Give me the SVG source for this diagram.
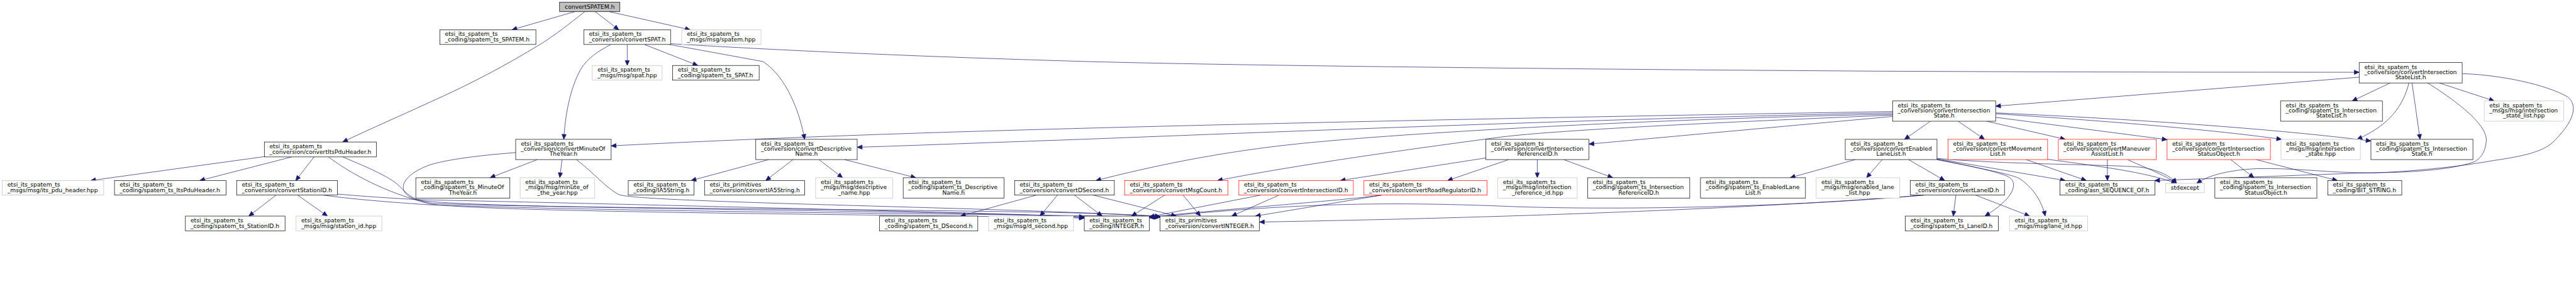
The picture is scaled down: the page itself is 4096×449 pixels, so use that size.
<svg xmlns="http://www.w3.org/2000/svg" width="4096" height="449" viewBox="0 0 4096 449">
<defs>
<style>
.n rect{fill:#fff;stroke:#000;stroke-width:1}
.g rect{fill:#fff;stroke:#bfbfbf;stroke-width:1}
.r rect{fill:#fff;stroke:#ff0000;stroke-width:1}
.root rect{fill:#bfbfbf;stroke:#000;stroke-width:1}
text{font-family:"DejaVu Sans","Liberation Sans",sans-serif;font-size:12.9px;fill:#000}
.c{text-anchor:middle}
#edges path{fill:none;stroke:#191970;stroke-width:1;marker-end:url(#a)}
</style>
<marker id="a" markerUnits="userSpaceOnUse" markerWidth="12" markerHeight="10" refX="11" refY="4.8" orient="auto" overflow="visible"><path d="M0,0 L11,4.8 L0,9.6 z" fill="#191970" stroke="#191970" stroke-width="1"/></marker>
</defs>
<rect width="4096" height="449" fill="#fff"/>
<g transform="scale(0.710371)">
<g id="edges">
<path d="M1287,26 L1146,66.7"/>
<path d="M1309,26 C1270,57 1240,80 1213,97 C1130,148 1050,190 960,230 C900,258 830,288 767,318.3"/>
<path d="M1332,26 L1385,66.7"/>
<path d="M1363,26 L1545,66.7"/>
<path d="M1404,100 L1404,146.7"/>
<path d="M1443,100 L1562,146.7"/>
<path d="M1367,100 C1340,114 1315,130 1300,155 C1275,200 1265,260 1262,312.3"/>
<path d="M1495,99 L1708,138 C1760,172 1790,250 1801,312.3"/>
<path d="M1501,98 C1800,116 2100,128 2401,137 S3361,153 3841,157 S4801,162 5280.7,162"/>
<path d="M5350,186 L5265,226.3"/>
<path d="M5399,186 L5417,312.3"/>
<path d="M5460,186 L5583,226.3"/>
<path d="M5392,186 C5380,235 5350,280 5276,312.3"/>
<path d="M5281,173 L4467,238"/>
<path d="M5434,186 C5500,228 5570,280 5565,318 C5562,345 5550,355 5540,362 C5480,385 5350,388 5280,387 C5200,386 5133,376 5050,378 C4980,382 4940,395 4917,411"/>
<path d="M5511,165 C5600,168 5700,190 5747,217 C5770,235 5765,270 5713,320 C5690,340 5650,350 5580,360 C5480,378 5350,388 5280,388 L4823,404.7"/>
<path d="M4236.3,250 C3500,262 2500,282 1921,303 C1700,311 1500,320 1368,327"/>
<path d="M4236.3,253 C3600,265 2800,298 2401,313 C2200,320 2050,326 1918.7,330"/>
<path d="M4236.3,256 C3700,266 3100,300 2881,325 C2700,345 2550,380 2453,404.7"/>
<path d="M4236.3,258 C3900,272 3500,290 3361,307 C3150,335 2900,370 2725,404.7"/>
<path d="M4236.3,261 L3556.7,323"/>
<path d="M4321,271.7 L4263,312.3"/>
<path d="M4383,271.7 L4442,312.3"/>
<path d="M4447,271.7 L4623,312.3"/>
<path d="M4467,263 L4850.7,313"/>
<path d="M4467,255 C4700,270 4950,290 5107,312.3"/>
<path d="M4467,253 C4800,268 5100,290 5307,316"/>
<path d="M1203,357.7 L1097,398.3"/>
<path d="M1258,357.7 L1253,398.3"/>
<path d="M1290,357.7 C1330,388 1355,420 1385,436 C1430,455 2300,465 2596.7,486"/>
<path d="M1154.3,342 C1060,349 990,360 961,370 C900,392 882,430 930,447 C1000,470 2200,470 2427,488"/>
<path d="M592,351 L203,404.7"/>
<path d="M653,351.7 L447,404.7"/>
<path d="M703,351.7 L662,404.7"/>
<path d="M735,351.7 C790,392 860,430 961,457 C1100,478 2200,482 2427,489"/>
<path d="M767,351.7 C830,378 875,398 895,418 C915,440 930,450 970,456 C1300,470 2400,468 2596.7,485"/>
<path d="M618,437.3 L557,484.3"/>
<path d="M666,437.3 L733,484.3"/>
<path d="M755.3,435 C850,443 920,447 961,448 C1500,460 2250,478 2427,486"/>
<path d="M723,437.3 C800,448 900,455 961,459 C1500,478 2400,480 2596.7,487"/>
<path d="M1721,357.7 L1547,404.7"/>
<path d="M1775,357.7 L1714,404.7"/>
<path d="M1833,357.7 L1886,398.3"/>
<path d="M1890,357.7 L2050,398.3"/>
<path d="M3441,357.7 L3441,398.3"/>
<path d="M3500,357.7 L3610,398.3"/>
<path d="M3326,354 L3000,404.7"/>
<path d="M3377,357.7 L3240,404.7"/>
<path d="M4153,357.7 L4007,398.3"/>
<path d="M4213,357.7 L4178,398.3"/>
<path d="M4272,357.7 L4353,404.7"/>
<path d="M4335.7,356 L4623,404.7"/>
<path d="M4335.7,357 C4440,378 4480,388 4497,397 C4515,408 4515,440 4443,484.3"/>
<path d="M4335.7,358 C4450,380 4505,392 4520,400 C4550,420 4570,450 4578,484.3"/>
<path d="M4335.7,355 C4500,370 4750,368 4800,376 C4840,384 4862,398 4872,411"/>
<path d="M4535,357.7 L4670,404.7"/>
<path d="M4583.3,357 C4700,373 4800,385 4872,411"/>
<path d="M4717,357.7 L4717,404.7"/>
<path d="M4762,357.7 C4800,375 4845,392 4872,411"/>
<path d="M4993,357.7 L5045,398.3"/>
<path d="M5050,357.7 L5232,404.7"/>
<path d="M2320,437.3 L2150,484.3"/>
<path d="M2367,437.3 L2328,484.3"/>
<path d="M2405,437.3 L2467,484.3"/>
<path d="M2447,437.3 L2633,484.3"/>
<path d="M2607,437.3 L2533,484.3"/>
<path d="M2648,437.3 L2687,484.3"/>
<path d="M2822,437.3 L2572.7,486"/>
<path d="M2863,437.3 L2757,484.3"/>
<path d="M3093,437.3 C3000,450 2700,472 2572.7,487"/>
<path d="M3093,437.3 L2810,484.3"/>
<path d="M4378,437.3 L4372,484.3"/>
<path d="M4422,437.3 L4543,484.3"/>
<path d="M4307,437.3 C4000,465 3600,472 3361,462 C3100,452 2900,455 2572.7,488"/>
<path d="M4307,437.3 C4000,462 3500,485 2880,496.5 L2819,497.7"/>
</g>
<g id="n0" class="root"><rect x="1252.5" y="5" width="135" height="21"/><text class="c" x="1320" y="19.5">convertSPATEM.h</text></g>
<g id="n1" class="n"><rect x="984.5" y="66.7" width="215" height="33"/><text x="996" y="80.7">etsi_its_spatem_ts<tspan x="996" y="92.7">_coding/spatem_ts_SPATEM.h</tspan></text></g>
<g id="n2" class="n"><rect x="1306.7" y="66.7" width="194.3" height="33"/><text x="1318.2" y="80.7">etsi_its_spatem_ts<tspan x="1318.2" y="92.7">_conversion/convertSPAT.h</tspan></text></g>
<g id="n3" class="g"><rect x="1526" y="66.7" width="177.3" height="33"/><text x="1537.5" y="80.7">etsi_its_spatem_ts<tspan x="1537.5" y="92.7">_msgs/msg/spatem.hpp</tspan></text></g>
<g id="n4" class="g"><rect x="1325.7" y="146.7" width="156.3" height="33"/><text x="1337.2" y="160.7">etsi_its_spatem_ts<tspan x="1337.2" y="172.7">_msgs/msg/spat.hpp</tspan></text></g>
<g id="n5" class="n"><rect x="1505.7" y="146.7" width="193.6" height="33"/><text x="1517.2" y="160.7">etsi_its_spatem_ts<tspan x="1517.2" y="172.7">_coding/spatem_ts_SPAT.h</tspan></text></g>
<g id="n6" class="n"><rect x="5280.7" y="140.3" width="230.6" height="45.7"/><text x="5292.2" y="154.3">etsi_its_spatem_ts<tspan x="5292.2" y="166.3">_conversion/convertIntersection</tspan><tspan class="c" x="5396" y="177.8">StateList.h</tspan></text></g>
<g id="n7" class="n"><rect x="4236.3" y="226.3" width="230.7" height="45.4"/><text x="4247.8" y="240.3">etsi_its_spatem_ts<tspan x="4247.8" y="252.3">_conversion/convertIntersection</tspan><tspan class="c" x="4351.6" y="263.8">State.h</tspan></text></g>
<g id="n8" class="n"><rect x="5104.7" y="226.3" width="228" height="45.4"/><text x="5116.2" y="240.3">etsi_its_spatem_ts<tspan x="5116.2" y="252.3">_coding/spatem_ts_Intersection</tspan><tspan class="c" x="5218.7" y="263.8">StateList.h</tspan></text></g>
<g id="n9" class="g"><rect x="5560.7" y="226.3" width="177.6" height="45.4"/><text x="5572.2" y="240.3">etsi_its_spatem_ts<tspan x="5572.2" y="252.3">_msgs/msg/intersection</tspan><tspan class="c" x="5649.5" y="263.8">_state_list.hpp</tspan></text></g>
<g id="n10" class="n"><rect x="1154.3" y="312.3" width="213.7" height="45.4"/><text x="1165.8" y="326.3">etsi_its_spatem_ts<tspan x="1165.8" y="338.3">_conversion/convertMinuteOf</tspan><tspan class="c" x="1261.2" y="349.8">TheYear.h</tspan></text></g>
<g id="n11" class="n"><rect x="1691.7" y="312.3" width="227" height="45.4"/><text x="1703.2" y="326.3">etsi_its_spatem_ts<tspan x="1703.2" y="338.3">_conversion/convertDescriptive</tspan><tspan class="c" x="1805.2" y="349.8">Name.h</tspan></text></g>
<g id="n12" class="n"><rect x="3326" y="312.3" width="230.7" height="45.4"/><text x="3337.5" y="326.3">etsi_its_spatem_ts<tspan x="3337.5" y="338.3">_conversion/convertIntersection</tspan><tspan class="c" x="3441.4" y="349.8">ReferenceID.h</tspan></text></g>
<g id="n13" class="n"><rect x="4130.3" y="312.3" width="205.4" height="45.4"/><text x="4141.8" y="326.3">etsi_its_spatem_ts<tspan x="4141.8" y="338.3">_conversion/convertEnabled</tspan><tspan class="c" x="4233" y="349.8">LaneList.h</tspan></text></g>
<g id="n14" class="r"><rect x="4360.3" y="312.3" width="223" height="45.4"/><text x="4371.8" y="326.3">etsi_its_spatem_ts<tspan x="4371.8" y="338.3">_conversion/convertMovement</tspan><tspan class="c" x="4471.8" y="349.8">List.h</tspan></text></g>
<g id="n15" class="r"><rect x="4607.3" y="312.3" width="219" height="45.4"/><text x="4618.8" y="326.3">etsi_its_spatem_ts<tspan x="4618.8" y="338.3">_conversion/convertManeuver</tspan><tspan class="c" x="4716.8" y="349.8">AssistList.h</tspan></text></g>
<g id="n16" class="r"><rect x="4850.7" y="312.3" width="231.3" height="45.4"/><text x="4862.2" y="326.3">etsi_its_spatem_ts<tspan x="4862.2" y="338.3">_conversion/convertIntersection</tspan><tspan class="c" x="4966.4" y="349.8">StatusObject.h</tspan></text></g>
<g id="n17" class="g"><rect x="5105.7" y="312.3" width="177.6" height="45.4"/><text x="5117.2" y="326.3">etsi_its_spatem_ts<tspan x="5117.2" y="338.3">_msgs/msg/intersection</tspan><tspan class="c" x="5194.5" y="349.8">_state.hpp</tspan></text></g>
<g id="n18" class="n"><rect x="5307" y="312.3" width="228.3" height="45.4"/><text x="5318.5" y="326.3">etsi_its_spatem_ts<tspan x="5318.5" y="338.3">_coding/spatem_ts_Intersection</tspan><tspan class="c" x="5421.2" y="349.8">State.h</tspan></text></g>
<g id="n19" class="n"><rect x="591.7" y="318.3" width="251" height="33.4"/><text x="603.2" y="332.3">etsi_its_spatem_ts<tspan x="603.2" y="344.3">_conversion/convertItsPduHeader.h</tspan></text></g>
<g id="n20" class="g"><rect x="5" y="404.7" width="227" height="32.6"/><text x="16.5" y="418.7">etsi_its_spatem_ts<tspan x="16.5" y="430.7">_msgs/msg/its_pdu_header.hpp</tspan></text></g>
<g id="n21" class="n"><rect x="256.3" y="404.7" width="249.7" height="32.6"/><text x="267.8" y="418.7">etsi_its_spatem_ts<tspan x="267.8" y="430.7">_coding/spatem_ts_ItsPduHeader.h</tspan></text></g>
<g id="n22" class="n"><rect x="529.7" y="404.7" width="225.6" height="32.6"/><text x="541.2" y="418.7">etsi_its_spatem_ts<tspan x="541.2" y="430.7">_conversion/convertStationID.h</tspan></text></g>
<g id="n23" class="n"><rect x="930.7" y="398.3" width="210.6" height="45.7"/><text x="942.2" y="412.3">etsi_its_spatem_ts<tspan x="942.2" y="424.3">_coding/spatem_ts_MinuteOf</tspan><tspan class="c" x="1036" y="435.8">TheYear.h</tspan></text></g>
<g id="n24" class="g"><rect x="1164.3" y="398.3" width="167" height="45.7"/><text x="1175.8" y="412.3">etsi_its_spatem_ts<tspan x="1175.8" y="424.3">_msgs/msg/minute_of</tspan><tspan class="c" x="1247.8" y="435.8">_the_year.hpp</tspan></text></g>
<g id="n25" class="n"><rect x="1406.3" y="404.7" width="147" height="32.6"/><text x="1417.8" y="418.7">etsi_its_spatem_ts<tspan x="1417.8" y="430.7">_coding/IA5String.h</tspan></text></g>
<g id="n26" class="n"><rect x="1577" y="404.7" width="224.3" height="32.6"/><text x="1588.5" y="418.7">etsi_its_primitives<tspan x="1588.5" y="430.7">_conversion/convertIA5String.h</tspan></text></g>
<g id="n27" class="g"><rect x="1825.7" y="398.3" width="172.3" height="45.7"/><text x="1837.2" y="412.3">etsi_its_spatem_ts<tspan x="1837.2" y="424.3">_msgs/msg/descriptive</tspan><tspan class="c" x="1911.9" y="435.8">_name.hpp</tspan></text></g>
<g id="n28" class="n"><rect x="2021.7" y="398.3" width="225.6" height="45.7"/><text x="2033.2" y="412.3">etsi_its_spatem_ts<tspan x="2033.2" y="424.3">_coding/spatem_ts_Descriptive</tspan><tspan class="c" x="2134.5" y="435.8">Name.h</tspan></text></g>
<g id="n29" class="n"><rect x="2271" y="404.7" width="223.3" height="32.6"/><text x="2282.5" y="418.7">etsi_its_spatem_ts<tspan x="2282.5" y="430.7">_conversion/convertDSecond.h</tspan></text></g>
<g id="n30" class="r"><rect x="2517.3" y="404.7" width="231.4" height="32.6"/><text x="2528.8" y="418.7">etsi_its_spatem_ts<tspan x="2528.8" y="430.7">_conversion/convertMsgCount.h</tspan></text></g>
<g id="n31" class="r"><rect x="2773" y="404.7" width="256.3" height="32.6"/><text x="2784.5" y="418.7">etsi_its_spatem_ts<tspan x="2784.5" y="430.7">_conversion/convertIntersectionID.h</tspan></text></g>
<g id="n32" class="r"><rect x="3053" y="404.7" width="275.3" height="32.6"/><text x="3064.5" y="418.7">etsi_its_spatem_ts<tspan x="3064.5" y="430.7">_conversion/convertRoadRegulatorID.h</tspan></text></g>
<g id="n33" class="g"><rect x="3352.7" y="398.3" width="177.6" height="45.7"/><text x="3364.2" y="412.3">etsi_its_spatem_ts<tspan x="3364.2" y="424.3">_msgs/msg/intersection</tspan><tspan class="c" x="3441.5" y="435.8">_reference_id.hpp</tspan></text></g>
<g id="n34" class="n"><rect x="3553.7" y="398.3" width="228.6" height="45.7"/><text x="3565.2" y="412.3">etsi_its_spatem_ts<tspan x="3565.2" y="424.3">_coding/spatem_ts_Intersection</tspan><tspan class="c" x="3668" y="435.8">ReferenceID.h</tspan></text></g>
<g id="n35" class="n"><rect x="3806.3" y="398.3" width="235" height="45.7"/><text x="3817.8" y="412.3">etsi_its_spatem_ts<tspan x="3817.8" y="424.3">_coding/spatem_ts_EnabledLane</tspan><tspan class="c" x="3923.8" y="435.8">List.h</tspan></text></g>
<g id="n36" class="g"><rect x="4065.3" y="398.3" width="187" height="45.7"/><text x="4076.8" y="412.3">etsi_its_spatem_ts<tspan x="4076.8" y="424.3">_msgs/msg/enabled_lane</tspan><tspan class="c" x="4158.8" y="435.8">_list.hpp</tspan></text></g>
<g id="n37" class="n"><rect x="4275.7" y="404.7" width="211" height="32.6"/><text x="4287.2" y="418.7">etsi_its_spatem_ts<tspan x="4287.2" y="430.7">_conversion/convertLaneID.h</tspan></text></g>
<g id="n38" class="n"><rect x="4611" y="404.7" width="212.3" height="32.6"/><text x="4622.5" y="418.7">etsi_its_spatem_ts<tspan x="4622.5" y="430.7">_coding/asn_SEQUENCE_OF.h</tspan></text></g>
<g id="n39" class="g"><rect x="4847.3" y="411" width="86.7" height="21"/><text class="c" x="4890.7" y="425">stdexcept</text></g>
<g id="n40" class="n"><rect x="4957.7" y="398.3" width="228.3" height="45.7"/><text x="4969.2" y="412.3">etsi_its_spatem_ts<tspan x="4969.2" y="424.3">_coding/spatem_ts_Intersection</tspan><tspan class="c" x="5071.9" y="435.8">StatusObject.h</tspan></text></g>
<g id="n41" class="n"><rect x="5210.3" y="404.7" width="165.7" height="32.6"/><text x="5221.8" y="418.7">etsi_its_spatem_ts<tspan x="5221.8" y="430.7">_coding/BIT_STRING.h</tspan></text></g>
<g id="n42" class="n"><rect x="415" y="484.3" width="223" height="33.4"/><text x="426.5" y="498.3">etsi_its_spatem_ts<tspan x="426.5" y="510.3">_coding/spatem_ts_StationID.h</tspan></text></g>
<g id="n43" class="g"><rect x="662.7" y="484.3" width="192" height="33.4"/><text x="674.2" y="498.3">etsi_its_spatem_ts<tspan x="674.2" y="510.3">_msgs/msg/station_id.hpp</tspan></text></g>
<g id="n44" class="n"><rect x="1968.7" y="484.3" width="220" height="33.4"/><text x="1980.2" y="498.3">etsi_its_spatem_ts<tspan x="1980.2" y="510.3">_coding/spatem_ts_DSecond.h</tspan></text></g>
<g id="n45" class="g"><rect x="2213" y="484.3" width="189.7" height="33.4"/><text x="2224.5" y="498.3">etsi_its_spatem_ts<tspan x="2224.5" y="510.3">_msgs/msg/d_second.hpp</tspan></text></g>
<g id="n46" class="n"><rect x="2427" y="484.3" width="145.7" height="33.4"/><text x="2438.5" y="498.3">etsi_its_spatem_ts<tspan x="2438.5" y="510.3">_coding/INTEGER.h</tspan></text></g>
<g id="n47" class="n"><rect x="2596.7" y="484.3" width="222.3" height="33.4"/><text x="2608.2" y="498.3">etsi_its_primitives<tspan x="2608.2" y="510.3">_conversion/convertINTEGER.h</tspan></text></g>
<g id="n48" class="n"><rect x="4264.7" y="484.3" width="208.3" height="33.4"/><text x="4276.2" y="498.3">etsi_its_spatem_ts<tspan x="4276.2" y="510.3">_coding/spatem_ts_LaneID.h</tspan></text></g>
<g id="n49" class="g"><rect x="4498" y="484.3" width="174.7" height="33.4"/><text x="4509.5" y="498.3">etsi_its_spatem_ts<tspan x="4509.5" y="510.3">_msgs/msg/lane_id.hpp</tspan></text></g>
</g>
</svg>
